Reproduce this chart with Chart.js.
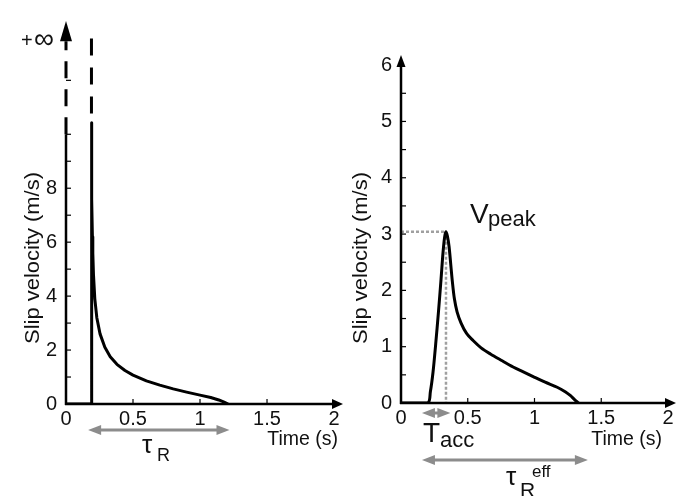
<!DOCTYPE html>
<html>
<head>
<meta charset="utf-8">
<script src="https://cdn.jsdelivr.net/npm/chart.js@4.4.1/dist/chart.umd.min.js"></script>
<style>
  body { margin: 0; background: #fff; }
  #wrap { position: relative; width: 685px; height: 496px; overflow: hidden; }
  canvas { position: absolute; top: 0; }
  #leftChart { left: 0; }
  #rightChart { left: 345px; }
</style>
</head>
<body>
<div id="wrap">
  <canvas id="leftChart" width="345" height="496"></canvas>
  <canvas id="rightChart" width="340" height="496"></canvas>
</div>
<script>
// tick labels
const xTicks = [0, 0.5, 1, 1.5, 2];
const leftYTicks = [0, 2, 4, 6, 8];
const rightYTicks = [0, 1, 2, 3, 4, 5, 6];

// left panel: singular slip velocity (Kostrov-like)
const leftTime = [0, 0.19, 0.19, 0.193, 0.197, 0.2, 0.205, 0.215, 0.23, 0.254, 0.29, 0.33, 0.38, 0.44, 0.5,
  0.6, 0.7, 0.8, 0.9, 1.0, 1.08, 1.14, 1.18, 1.21];
const leftVelocity = [0, 0, 10.43, 7.6, 6.2, 5.6, 4.8, 3.9, 3.2, 2.6, 2.1, 1.75, 1.47, 1.24, 1.07,
  0.86, 0.7, 0.56, 0.44, 0.33, 0.24, 0.15, 0.07, 0];
// dashed part of the spike, going to +infinity
const leftInfTime = [0.19, 0.19];
const leftInfVelocity = [13.55, 10.43];

// right panel: regularized slip velocity
const rightTime = [0, 0.2, 0.22, 0.24, 0.26, 0.28, 0.3, 0.315, 0.327, 0.337, 0.348, 0.36, 0.372, 0.385, 0.4, 0.42,
  0.45, 0.49, 0.54, 0.6, 0.67, 0.75, 0.84, 0.92, 0.99, 1.08, 1.17, 1.23, 1.27, 1.3, 1.33];
const rightVelocity = [0, 0, 0.2, 0.55, 1.05, 1.6, 2.2, 2.68, 2.95, 3.04, 2.96, 2.78, 2.48, 2.15, 1.85, 1.62,
  1.42, 1.24, 1.11, 0.98, 0.87, 0.76, 0.64, 0.55, 0.47, 0.37, 0.28, 0.2, 0.13, 0.06, 0];
// V_peak guide lines
const peakGuideTime = [0, 0.337, 0.337];
const peakGuideVelocity = [3.04, 3.04, 0];

// annotation arrows (time spans, s)
const tauRSpan = [0.165, 1.22];
const tAccSpan = [0.157, 0.37];
const tauEffSpan = [0.157, 1.4];

const FONT = '"Liberation Sans", Arial, Helvetica, sans-serif';
const GRAY = '#8c8c8c';

function toPoints(xs, ys) {
  return xs.map((x, i) => ({ x: x, y: ys[i] }));
}

function arrowHead(ctx, tipX, tipY, dx, dy, len, half) {
  const bx = tipX - dx * len, by = tipY - dy * len;
  ctx.beginPath();
  ctx.moveTo(tipX, tipY);
  ctx.lineTo(bx - dy * half, by + dx * half);
  ctx.lineTo(bx + dy * half, by - dx * half);
  ctx.closePath();
  ctx.fill();
}

function doubleArrow(ctx, x1, x2, y) {
  ctx.save();
  ctx.strokeStyle = GRAY;
  ctx.fillStyle = GRAY;
  ctx.lineWidth = 3;
  ctx.beginPath();
  ctx.moveTo(x1 + 10, y);
  ctx.lineTo(x2 - 10, y);
  ctx.stroke();
  arrowHead(ctx, x1, y, -1, 0, 13, 5);
  arrowHead(ctx, x2, y, 1, 0, 13, 5);
  ctx.restore();
}

function yTitle(ctx, cx, cy, len) {
  const text = 'Slip velocity (m/s)';
  ctx.save();
  ctx.translate(cx, cy);
  ctx.rotate(-Math.PI / 2);
  ctx.font = '20px ' + FONT;
  const w = ctx.measureText(text).width;
  ctx.scale(len / w, 1);
  ctx.fillStyle = '#111';
  ctx.textAlign = 'center';
  ctx.textBaseline = 'middle';
  ctx.fillText(text, 0, 0);
  ctx.restore();
}

function text(ctx, str, x, y, size, align) {
  ctx.font = size + 'px ' + FONT;
  ctx.textAlign = align || 'left';
  ctx.textBaseline = 'alphabetic';
  ctx.fillStyle = '#111';
  ctx.fillText(str, x, y);
}

// x axis with arrow plus inward ticks
function drawXAxis(chart, headLen, headHalf) {
  const ctx = chart.ctx;
  const xs = chart.scales.x, ys = chart.scales.y;
  const y0 = ys.getPixelForValue(0);
  const left = xs.getPixelForValue(0);
  const right = chart.chartArea.right;
  ctx.save();
  ctx.strokeStyle = '#000';
  ctx.fillStyle = '#000';
  ctx.lineWidth = 2.5;
  ctx.beginPath();
  ctx.moveTo(left - 1, y0);
  ctx.lineTo(right - headLen + 1, y0);
  ctx.stroke();
  arrowHead(ctx, right, y0, 1, 0, headLen, headHalf);
  ctx.lineWidth = 1.2;
  [0.5, 1, 1.5].forEach(v => {
    const px = xs.getPixelForValue(v);
    ctx.beginPath();
    ctx.moveTo(px, y0);
    ctx.lineTo(px, y0 - 5);
    ctx.stroke();
  });
  ctx.restore();
}

function drawYTicks(chart, values) {
  const ctx = chart.ctx;
  const x0 = chart.scales.x.getPixelForValue(0);
  ctx.save();
  ctx.strokeStyle = '#000';
  ctx.lineWidth = 1.2;
  values.forEach(v => {
    const py = chart.scales.y.getPixelForValue(v);
    ctx.beginPath();
    ctx.moveTo(x0, py);
    ctx.lineTo(x0 + 5, py);
    ctx.stroke();
  });
  ctx.restore();
}

const leftDecor = {
  id: 'leftDecor',
  afterDraw(chart) {
    const ctx = chart.ctx;
    const xs = chart.scales.x, ys = chart.scales.y;
    const x0 = xs.getPixelForValue(0);
    const y0 = ys.getPixelForValue(0);
    const ySolid = ys.getPixelForValue(10);
    const yDash = ys.getPixelForValue(13.45);
    drawXAxis(chart, 11, 5);
    ctx.save();
    ctx.strokeStyle = '#000';
    ctx.fillStyle = '#000';
    ctx.lineWidth = 2.5;
    ctx.beginPath();
    ctx.moveTo(x0, y0 + 1);
    ctx.lineTo(x0, ySolid);
    ctx.stroke();
    ctx.lineWidth = 3;
    ctx.setLineDash([17, 11]);
    ctx.beginPath();
    ctx.moveTo(x0, ySolid);
    ctx.lineTo(x0, yDash);
    ctx.stroke();
    ctx.setLineDash([]);
    arrowHead(ctx, x0, chart.chartArea.top, 0, -1, yDash - chart.chartArea.top, 6);
    ctx.restore();
    drawYTicks(chart, [1, 2, 3, 4, 5, 6, 7, 8, 9, 10, 12]);

    yTitle(ctx, 33, 258, 172);
    text(ctx, '+', 21, 47, 20);
    text(ctx, '\u221E', 34, 48, 28);
    text(ctx, 'Time (s)', 338, 445, 19.5, 'right');

    doubleArrow(ctx, xs.getPixelForValue(tauRSpan[0]), xs.getPixelForValue(tauRSpan[1]), 430);
    text(ctx, '\u03C4', 142, 453, 26);
    text(ctx, 'R', 157, 461, 18);
  }
};

const rightDecor = {
  id: 'rightDecor',
  afterDraw(chart) {
    const ctx = chart.ctx;
    const xs = chart.scales.x, ys = chart.scales.y;
    const x0 = xs.getPixelForValue(0);
    const y0 = ys.getPixelForValue(0);
    const top = chart.chartArea.top;
    drawXAxis(chart, 11, 5);
    ctx.save();
    ctx.strokeStyle = '#000';
    ctx.fillStyle = '#000';
    ctx.lineWidth = 2.5;
    ctx.beginPath();
    ctx.moveTo(x0, y0 + 1);
    ctx.lineTo(x0, top + 11);
    ctx.stroke();
    arrowHead(ctx, x0, top, 0, -1, 12, 4.5);
    ctx.restore();
    drawYTicks(chart, [0.5, 1, 1.5, 2, 2.5, 3, 3.5, 4, 4.5, 5, 5.5]);

    yTitle(ctx, 16, 258, 172);
    text(ctx, 'Time (s)', 317, 445, 19.5, 'right');

    text(ctx, 'V', 125, 223, 28);
    text(ctx, 'peak', 143, 226, 22);

    doubleArrow(ctx, xs.getPixelForValue(tAccSpan[0]), xs.getPixelForValue(tAccSpan[1]), 413);
    text(ctx, 'T', 78, 442, 28);
    text(ctx, 'acc', 95, 447, 22);

    doubleArrow(ctx, xs.getPixelForValue(tauEffSpan[0]), xs.getPixelForValue(tauEffSpan[1]), 460);
    text(ctx, '\u03C4', 161, 485, 26);
    text(ctx, 'R', 175, 497, 21);
    text(ctx, 'eff', 187, 477, 17);
  }
};

function makeScales(xMax, yMax, yTicks, yWidth, xHeight) {
  return {
    x: {
      type: 'linear', min: 0, max: xMax,
      afterBuildTicks: s => { s.ticks = xTicks.map(v => ({ value: v })); },
      afterFit: s => { s.height = xHeight; },
      grid: { display: false, drawTicks: false }, border: { display: false },
      ticks: { color: '#111', font: { family: FONT, size: 20 }, padding: 3, maxRotation: 0, autoSkip: false,
        callback: v => String(v) }
    },
    y: {
      type: 'linear', min: 0, max: yMax,
      afterBuildTicks: s => { s.ticks = yTicks.map(v => ({ value: v })); },
      afterFit: s => { s.width = yWidth; },
      grid: { display: false, drawTicks: false }, border: { display: false },
      ticks: { color: '#111', font: { family: FONT, size: 20 }, padding: 9, autoSkip: false,
        callback: v => String(v) }
    }
  };
}

const baseOpts = {
  responsive: false,
  animation: false,
  devicePixelRatio: 1,
  events: [],
  plugins: { legend: { display: false }, tooltip: { enabled: false } }
};

new Chart(document.getElementById('leftChart'), {
  type: 'scatter',
  data: {
    datasets: [
      { data: toPoints(leftTime, leftVelocity), showLine: true, borderColor: '#000', borderWidth: 3,
        pointRadius: 0, tension: 0, borderJoinStyle: 'round' },
      { data: toPoints(leftInfTime, leftInfVelocity), showLine: true, borderColor: '#000', borderWidth: 3,
        pointRadius: 0, borderDash: [17, 12] }
    ]
  },
  options: Object.assign({}, baseOpts, {
    layout: { padding: { top: 6, right: 2, left: 0, bottom: 0 } },
    scales: makeScales(2.067, 14.2, leftYTicks, 66, 92)
  }),
  plugins: [leftDecor]
});

new Chart(document.getElementById('rightChart'), {
  type: 'scatter',
  data: {
    datasets: [
      { data: toPoints(rightTime, rightVelocity), showLine: true, borderColor: '#000', borderWidth: 3,
        pointRadius: 0, tension: 0.3, borderJoinStyle: 'round' },
      { data: toPoints(peakGuideTime, peakGuideVelocity), showLine: true, borderColor: '#a0a0a0', borderWidth: 2.5,
        pointRadius: 0, borderDash: [3, 2] }
    ]
  },
  options: Object.assign({}, baseOpts, {
    layout: { padding: { top: 55, right: 9, left: 0, bottom: 0 } },
    scales: makeScales(2.06, 6.18, rightYTicks, 56, 93)
  }),
  plugins: [rightDecor]
});
</script>
</body>
</html>
